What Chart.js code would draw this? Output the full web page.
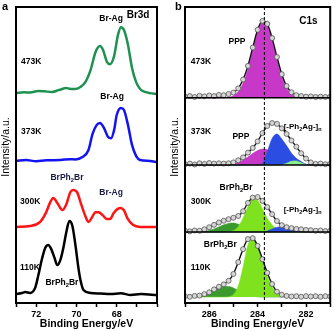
<!DOCTYPE html>
<html>
<head>
<meta charset="utf-8">
<script src="https://cdn.jsdelivr.net/npm/chart.js@4.4.0/dist/chart.umd.min.js"></script>
<style>
  body { margin: 0; background: #fff; }
  #wrap { position: relative; width: 335px; height: 331px; }
  canvas { position: absolute; top: 0; }
  #chartA { left: 0; }
  #chartB { left: 160px; }
</style>
</head>
<body>
<div id="wrap">
  <canvas id="chartA" width="160" height="331"></canvas>
  <canvas id="chartB" width="175" height="331"></canvas>
</div>
<script>
// ---- panel a : Br3d spectra, [binding energy eV, intensity a.u.] ----
const br473 = [[73.0,70.9],[72.6,71.2],[72.3,71.1],[71.9,71.6],[71.6,71.5],[71.2,71.3],[70.85,72.0],[70.5,72.6],[70.35,72.4],[70.1,72.3],[69.8,73.0],[69.55,74.7],[69.3,78.7],[69.05,84.8],[68.83,86.8],[68.68,85.5],[68.48,81.4],[68.33,80.7],[68.13,83.4],[67.94,90.5],[67.79,93.2],[67.64,92.2],[67.44,87.2],[67.24,79.4],[67.04,74.7],[66.84,72.3],[66.59,71.3],[66.35,70.9],[66.0,70.6]];
const br373 = [[73.0,48.0],[72.5,48.3],[72.0,47.9],[71.5,48.2],[70.8,48.3],[70.3,48.6],[70.05,48.5],[69.7,49.3],[69.4,51.7],[69.2,57.1],[69.0,60.1],[68.83,60.8],[68.63,59.1],[68.43,56.1],[68.28,55.7],[68.13,58.4],[68.0,63.5],[67.79,65.9],[67.64,65.2],[67.44,60.1],[67.24,53.4],[67.04,49.7],[66.84,48.3],[66.35,48.0],[66.0,47.6]];
const br300 = [[73.0,25.7],[72.3,26.0],[71.8,27.4],[71.5,30.7],[71.3,34.1],[71.15,35.5],[70.95,33.8],[70.7,31.4],[70.5,33.4],[70.3,37.5],[70.15,38.2],[69.95,37.2],[69.8,34.1],[69.6,30.1],[69.4,27.4],[69.25,28.7],[69.05,30.7],[68.9,30.7],[68.7,29.7],[68.5,28.4],[68.33,28.4],[68.15,30.4],[67.95,31.8],[67.8,32.1],[67.65,31.4],[67.45,28.4],[67.2,26.4],[66.85,25.7],[66.0,25.7]];
const br110 = [[73.0,3.0],[72.7,3.4],[72.55,3.7],[72.3,3.4],[72.05,5.1],[71.9,9.1],[71.7,15.2],[71.55,18.6],[71.4,19.6],[71.25,18.2],[71.1,15.5],[70.95,12.8],[70.8,14.5],[70.65,18.6],[70.5,24.0],[70.35,27.7],[70.2,26.0],[70.05,19.6],[69.9,11.8],[69.8,7.8],[69.65,4.4],[69.3,3.4],[68.8,3.2],[68.3,3.0],[67.8,3.3],[67.3,2.7],[66.8,3.0],[66.0,2.7]];

// ---- panel b : C1s fits, on a common energy grid ----
const energyB = [287.0,286.8,286.6,286.4,286.2,286.0,285.8,285.6,285.4,285.2,285.0,284.8,284.6,284.4,284.2,284.0,283.8,283.6,283.4,283.2,283.0,282.8,282.6,282.4,282.2,282.0,281.8,281.6,281.4,281.2,281.0];
// 473K
const ppp473 = [0,0,0,0,0,0,0,0,0.05,0.2,0.7,2.1,5.0,9.8,16.2,22.3,25.5,24.4,19.5,12.9,7.2,3.3,1.3,0.4,0.1,0,0,0,0,0,0];
const env473 = [0.4,0.6,0.3,0.7,0.5,0.8,0.6,1.0,0.9,1.3,1.8,3.2,6.2,10.8,17.0,23.0,26.0,25.0,20.2,13.8,8.0,4.0,1.9,0.9,0.6,0.4,0.5,0.3,0.4,0.3,0.4];
// 373K
const ppp373 = [0,0,0,0,0,0,0,0,0.06,0.2,0.4,0.9,1.7,2.7,3.9,4.9,5.4,5.2,4.4,3.2,2.1,1.2,0.6,0.25,0.1,0,0,0,0,0,0];
const poly373 = [0,0,0,0,0,0,0,0,0,0,0,0,0,0,0,0,0.5,4.5,9.0,10.5,8.8,6.5,4.0,2.3,1.2,0.3,0,0,0,0,0];
const minor373 = [0,0,0,0,0,0,0,0,0,0,0,0,0,0,0,0,0,0,0,0,0.1,0.6,1.3,1.4,0.8,0.2,0,0,0,0,0];
const env373 = [0.3,0.5,0.2,0.6,0.4,0.7,0.5,0.6,0.5,0.6,0.9,1.6,2.6,4.2,5.8,8.0,10.8,13.2,14.2,13.9,12.4,10.5,8.3,6.2,4.0,2.2,0.9,0.4,0.5,0.3,0.4];
// 300K
const mono300 = [0,0,0,0,0,0,0,0,0,0.1,0.5,1.8,4.7,8.5,11.3,10.7,7.8,4.6,2.4,0.9,0.2,0,0,0,0,0,0,0,0,0,0];
const side300 = [0,0,0,0.1,0.2,0.5,1.0,1.7,2.4,2.9,3.0,2.6,2.0,1.3,0.7,0.3,0.1,0,0,0,0,0,0,0,0,0,0,0,0,0,0];
const poly300 = [0,0,0,0,0,0,0,0,0,0,0,0,0,0,0,0,0,0.3,1.0,1.6,1.7,1.3,0.8,0.4,0.1,0,0,0,0,0,0];
const env300 = [0.4,0.2,0.5,0.4,0.9,1.6,2.4,3.2,3.8,4.3,4.8,5.4,7.0,9.8,11.6,11.8,10.5,8.4,6.0,3.7,2.3,1.6,1.3,1.0,0.9,0.7,0.6,0.4,0.5,0.3,0.4];
// 110K
const mono110 = [0,0,0,0,0,0,0,0,0,0.1,0.9,3.7,10.1,17.6,19.9,17.1,12.1,7.0,3.4,1.3,0.4,0.1,0,0,0,0,0,0,0,0,0];
const side110 = [0,0,0.1,0.3,0.7,1.4,2.2,3.1,3.6,3.6,3.1,2.2,1.4,0.7,0.3,0.1,0,0,0,0,0,0,0,0,0,0,0,0,0,0,0];
const env110 = [0.3,0.1,0.4,0.5,1.0,1.6,2.6,3.5,4.3,5.5,7.8,11.8,16.2,19.6,19.9,17.3,12.8,8.2,4.4,1.8,0.8,0.4,0.2,0.3,0.1,0.3,0.2,0.3,0.1,0.3,0.2];

// stacking baselines of the four C1s spectra (a.u.)
const basesB = { k473: 69.3, k373: 46.6, k300: 24.0, k110: 2.0 };
const refEnergy = 283.72;

const FONT = '"Liberation Sans", Arial, sans-serif';

function drawRich(ctx, text, x, y, size, align, color) {
    const parts = [];
    let buf = '';
    for (let i = 0; i < text.length; i++) {
        if (text[i] === '_') {
            if (buf) parts.push({ t: buf, sub: false });
            buf = '';
            parts.push({ t: text[i + 1], sub: true });
            i++;
        } else {
            buf += text[i];
        }
    }
    if (buf) parts.push({ t: buf, sub: false });
    let w = 0;
    parts.forEach(p => {
        ctx.font = `bold ${p.sub ? size * 0.68 : size}px ${FONT}`;
        p.w = ctx.measureText(p.t).width;
        w += p.w;
    });
    let cx = align === 'center' ? x - w / 2 : x;
    ctx.fillStyle = color;
    ctx.textAlign = 'left';
    ctx.textBaseline = 'middle';
    parts.forEach(p => {
        ctx.font = `bold ${p.sub ? size * 0.68 : size}px ${FONT}`;
        ctx.fillText(p.t, cx, p.sub ? y + size * 0.3 : y);
        cx += p.w;
    });
}

function framePlugin(letter, letterX, extra) {
    return {
        id: 'frame',
        afterDatasetsDraw(chart) {
            const { ctx, chartArea: a, scales } = chart;
            ctx.save();
            if (extra) extra(ctx, a, scales);
            ctx.strokeStyle = '#000';
            ctx.lineWidth = 2;
            ctx.strokeRect(a.left, a.top, a.right - a.left, a.bottom - a.top);
            ctx.restore();
        },
        afterDraw(chart) {
            const { ctx, chartArea: a, scales } = chart;
            ctx.save();
            (chart.options.plugins.frame.labels || []).forEach(l => {
                drawRich(ctx, l.text, scales.x.getPixelForValue(l.x), scales.y.getPixelForValue(l.y),
                    l.size || 8.5, l.align || 'center', l.color || '#000');
            });
            drawRich(ctx, letter, letterX, 7, 11, 'left', '#000');
            ctx.translate(a.left - 10, 147);
            ctx.rotate(-Math.PI / 2);
            ctx.font = `10.5px ${FONT}`;
            ctx.fillStyle = '#000';
            ctx.textAlign = 'center';
            ctx.textBaseline = 'middle';
            ctx.fillText('Intensity/a.u.', 0, 0);
            ctx.restore();
        }
    };
}

function baseOptions(min, max, padL, padR, labels) {
    return {
        responsive: false,
        animation: false,
        layout: { padding: { left: padL, right: padR, top: 7, bottom: 0 } },
        plugins: { legend: { display: false }, tooltip: { enabled: false }, frame: { labels } },
        scales: {
            x: {
                type: 'linear', min, max, reverse: true,
                afterFit: s => { s.height = 28; },
                border: { display: true, color: '#000', width: 2 },
                grid: { drawOnChartArea: false, drawTicks: true, tickLength: 4, tickWidth: 1.5, tickColor: '#000' },
                ticks: {
                    stepSize: 1, padding: 2, color: '#000', maxRotation: 0,
                    font: { family: FONT, size: 9, weight: 'bold' },
                    // even energies are labelled, except at the frame edges
                    callback: (v, i, all) => (v % 2 === 0 && i > 0 && i < all.length - 1 ? v : '')
                },
                title: {
                    display: true, text: 'Binding Energy/eV', color: '#000',
                    padding: { top: 0, bottom: 1 },
                    font: { family: FONT, size: 10.5, weight: 'bold' }
                }
            },
            y: { display: false, min: 0, max: 100 }
        }
    };
}

// ---- chart a ----
const lineA = (pts, color) => ({
    data: pts.map(p => ({ x: p[0], y: p[1] })),
    borderColor: color, borderWidth: 2.5, pointRadius: 0, fill: false,
    cubicInterpolationMode: 'monotone'
});

const labelsA = [
    { text: 'Br3d', x: 66.94, y: 97.3, size: 10 },
    { text: 'Br-Ag', x: 68.28, y: 95.9 },
    { text: '473K', x: 72.75, y: 81.4, align: 'left' },
    { text: 'Br-Ag', x: 68.23, y: 69.6 },
    { text: '373K', x: 72.75, y: 57.8, align: 'left' },
    { text: 'BrPh_2Br', x: 70.47, y: 42.2, color: '#1a1a44' },
    { text: 'Br-Ag', x: 68.28, y: 37.2, color: '#1a1a44' },
    { text: '300K', x: 72.8, y: 34.1, align: 'left' },
    { text: '110K', x: 72.8, y: 11.8, align: 'left' },
    { text: 'BrPh_2Br', x: 70.72, y: 6.8 }
];

new Chart(document.getElementById('chartA'), {
    type: 'line',
    data: {
        datasets: [
            lineA(br473, '#1f9150'),
            lineA(br373, '#1414f0'),
            lineA(br300, '#ff1414'),
            lineA(br110, '#000000')
        ]
    },
    options: baseOptions(66, 73, 16, 3, labelsA),
    plugins: [framePlugin('a', 2)]
});

// ---- chart b ----
const MAGENTA = '#c838c8', BLUE = '#2b4de2', LIME = '#7fe21e', DKGREEN = '#3a9a2e', PALE = '#8cf08c';

const comp = (vals, base, color, order) => ({
    data: energyB.map((e, i) => ({ x: e, y: base + vals[i] })),
    borderColor: color, backgroundColor: color, borderWidth: 0.6,
    fill: { value: base }, pointRadius: 0, cubicInterpolationMode: 'monotone', order
});
const envelope = (vals, base) => ({
    data: energyB.map((e, i) => ({ x: e, y: base + vals[i] })),
    borderColor: '#111', borderWidth: 1.4, fill: false,
    pointRadius: 2.5, pointBackgroundColor: '#d6d6d6', pointBorderColor: '#555', pointBorderWidth: 0.8,
    cubicInterpolationMode: 'monotone', order: 0
});

const labelsB = [
    { text: 'C1s', x: 281.9, y: 95.3, size: 10 },
    { text: 'PPP', x: 284.85, y: 88.2 },
    { text: '473K', x: 286.76, y: 81.4, align: 'left' },
    { text: '373K', x: 286.76, y: 57.8, align: 'left' },
    { text: 'PPP', x: 284.69, y: 56.1 },
    { text: '[-Ph_2Ag-]_n', x: 282.14, y: 59.5, size: 8 },
    { text: 'BrPh_2Br', x: 284.89, y: 38.9 },
    { text: '300K', x: 286.76, y: 34.1, align: 'left' },
    { text: '[-Ph_2Ag-]_n', x: 282.14, y: 31.4, size: 8 },
    { text: 'BrPh_2Br', x: 285.54, y: 19.6 },
    { text: '110K', x: 286.76, y: 11.8, align: 'left' }
];

const extraB = (ctx, a, scales) => {
    ctx.strokeStyle = '#000';
    ctx.lineWidth = 1.5;
    [basesB.k473, basesB.k373, basesB.k300].forEach(b => {
        const y = scales.y.getPixelForValue(b);
        ctx.beginPath();
        ctx.moveTo(a.left, y);
        ctx.lineTo(a.right, y);
        ctx.stroke();
    });
    const x = scales.x.getPixelForValue(refEnergy);
    ctx.lineWidth = 1;
    ctx.setLineDash([3, 2]);
    ctx.beginPath();
    ctx.moveTo(x, a.top);
    ctx.lineTo(x, a.bottom);
    ctx.stroke();
    ctx.setLineDash([]);
};

new Chart(document.getElementById('chartB'), {
    type: 'line',
    data: {
        datasets: [
            comp(ppp473, basesB.k473, MAGENTA, 5),
            envelope(env473, basesB.k473),
            comp(ppp373, basesB.k373, MAGENTA, 5),
            comp(poly373, basesB.k373, BLUE, 4),
            comp(minor373, basesB.k373, PALE, 3),
            envelope(env373, basesB.k373),
            comp(side300, basesB.k300, DKGREEN, 5),
            comp(mono300, basesB.k300, LIME, 4),
            comp(poly300, basesB.k300, BLUE, 3),
            envelope(env300, basesB.k300),
            comp(side110, basesB.k110, DKGREEN, 5),
            comp(mono110, basesB.k110, LIME, 4),
            envelope(env110, basesB.k110)
        ]
    },
    options: baseOptions(281, 287, 25, 2, labelsB),
    plugins: [framePlugin('b', 15, extraB)]
});
</script>
</body>
</html>
